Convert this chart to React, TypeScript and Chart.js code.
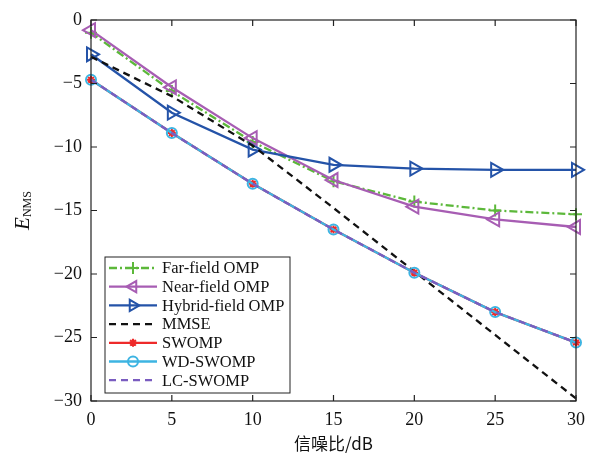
import React, { useEffect, useRef } from "react";
import { Chart, registerables } from "chart.js";

Chart.register(...registerables);

const snr = [0, 5, 10, 15, 20, 25, 30];
const farField = [-1.0, -5.6, -9.6, -12.7, -14.3, -15.0, -15.3];
const nearField = [-0.8, -5.3, -9.3, -12.6, -14.7, -15.7, -16.3];
const hybridField = [-2.7, -7.3, -10.2, -11.4, -11.7, -11.8, -11.8];
const mmse = [-2.9, -6.0, -9.9, -14.8, -19.8, -24.8, -29.8];
const swomp = [-4.7, -8.9, -12.9, -16.5, -19.9, -23.0, -25.4];
const wdSwomp = [-4.7, -8.9, -12.9, -16.5, -19.9, -23.0, -25.4];
const lcSwomp = [-4.7, -8.9, -12.9, -16.5, -19.9, -23.0, -25.4];
const yTicks = [0, -5, -10, -15, -20, -25, -30];
const xTicks = [0, 5, 10, 15, 20, 25, 30];

const SERIF = "'Liberation Serif', 'Times New Roman', serif";

type Item = {
  label: string;
  data: number[];
  color: string;
  dash: number[];
  point: string | false;
  rotation?: number;
  radius?: number;
};

const items: Item[] = [
  { label: "Far-field OMP", data: farField, color: "#5cb83a", dash: [8, 3, 2, 3], point: "cross", radius: 6 },
  { label: "Near-field OMP", data: nearField, color: "#a75db3", dash: [], point: "triangle", rotation: -90, radius: 8 },
  { label: "Hybrid-field OMP", data: hybridField, color: "#2453a8", dash: [], point: "triangle", rotation: 90, radius: 8 },
  { label: "MMSE", data: mmse, color: "#111111", dash: [7, 5], point: false },
  { label: "SWOMP", data: swomp, color: "#ee2a2a", dash: [], point: "star", radius: 4 },
  { label: "WD-SWOMP", data: wdSwomp, color: "#3db4e2", dash: [], point: "circle", radius: 5 },
  { label: "LC-SWOMP", data: lcSwomp, color: "#7a5cc0", dash: [7, 5], point: false },
];

const fmt = (v: number) => (v < 0 ? "\u2212" + Math.abs(v) : String(v));

function drawMarker(ctx: CanvasRenderingContext2D, style: string, r: number, rot: number, x: number, y: number, color: string) {
  ctx.save();
  ctx.strokeStyle = color;
  ctx.fillStyle = color;
  ctx.lineWidth = 2;
  ctx.setLineDash([]);
  ctx.beginPath();
  if (style === "circle") {
    ctx.arc(x, y, r, 0, Math.PI * 2);
  } else if (style === "cross") {
    ctx.moveTo(x - r, y); ctx.lineTo(x + r, y);
    ctx.moveTo(x, y - r); ctx.lineTo(x, y + r);
  } else if (style === "star") {
    for (let k = 0; k < 4; k++) {
      const ang = (k * Math.PI) / 4;
      ctx.moveTo(x - Math.cos(ang) * r, y - Math.sin(ang) * r);
      ctx.lineTo(x + Math.cos(ang) * r, y + Math.sin(ang) * r);
    }
  } else if (style === "triangle") {
    const t = (rot * Math.PI) / 180;
    for (let k = 0; k < 3; k++) {
      const ang = t - Math.PI / 2 + (k * 2 * Math.PI) / 3;
      const px = x + Math.cos(ang) * r;
      const py = y + Math.sin(ang) * r;
      if (k === 0) ctx.moveTo(px, py); else ctx.lineTo(px, py);
    }
    ctx.closePath();
  }
  ctx.stroke();
  ctx.restore();
}

const framePlugin = {
  id: "frame",
  afterDraw(chart: any) {
    const { ctx, chartArea: a, scales } = chart;
    ctx.save();
    ctx.strokeStyle = "#222";
    ctx.lineWidth = 1.2;
    ctx.setLineDash([]);
    ctx.strokeRect(a.left, a.top, a.right - a.left, a.bottom - a.top);
    const tl = 6;
    for (const v of xTicks) {
      const x = scales.x.getPixelForValue(v);
      ctx.beginPath();
      ctx.moveTo(x, a.bottom);
      ctx.lineTo(x, a.bottom - tl);
      ctx.moveTo(x, a.top);
      ctx.lineTo(x, a.top + tl);
      ctx.stroke();
    }
    for (const v of yTicks) {
      const y = scales.y.getPixelForValue(v);
      ctx.beginPath();
      ctx.moveTo(a.left, y);
      ctx.lineTo(a.left + tl, y);
      ctx.moveTo(a.right, y);
      ctx.lineTo(a.right - tl, y);
      ctx.stroke();
    }

    // y title
    ctx.save();
    ctx.translate(23, (a.top + a.bottom) / 2);
    ctx.rotate(-Math.PI / 2);
    ctx.fillStyle = "#111";
    ctx.textBaseline = "middle";
    ctx.font = `italic 21px ${SERIF}`;
    const eW = ctx.measureText("E").width;
    ctx.font = `12px ${SERIF}`;
    const sW = ctx.measureText("NMS").width;
    const total = eW + sW;
    ctx.font = `italic 21px ${SERIF}`;
    ctx.textAlign = "left";
    ctx.fillText("E", -total / 2, 0);
    ctx.font = `12px ${SERIF}`;
    ctx.fillText("NMS", -total / 2 + eW, 5);
    ctx.restore();

    // x title
    ctx.fillStyle = "#111";
    ctx.font = `17px 'Noto Sans CJK SC', ${SERIF}`;
    ctx.textAlign = "center";
    ctx.textBaseline = "middle";
    ctx.fillText("信噪比/dB", (a.left + a.right) / 2, 444);

    // legend
    const lx = 105, ly = 257, lw = 185, lh = 136;
    ctx.fillStyle = "#fff";
    ctx.fillRect(lx, ly, lw, lh);
    ctx.strokeStyle = "#222";
    ctx.lineWidth = 1;
    ctx.strokeRect(lx, ly, lw, lh);
    const rowH = 18.7;
    items.forEach((it, i) => {
      const y = 268 + i * rowH;
      ctx.strokeStyle = it.color;
      ctx.lineWidth = 2.3;
      ctx.setLineDash(it.dash);
      ctx.beginPath();
      ctx.moveTo(109, y);
      ctx.lineTo(157, y);
      ctx.stroke();
      ctx.setLineDash([]);
      if (it.point) {
        drawMarker(ctx, it.point as string, Math.min(it.radius || 5, 6.5), it.rotation || 0, 133, y, it.color);
      }
      ctx.fillStyle = "#111";
      ctx.font = `16.5px ${SERIF}`;
      ctx.textAlign = "left";
      ctx.textBaseline = "middle";
      ctx.fillText(it.label, 162, y + 1);
    });
    ctx.restore();
  },
};

export default function App() {
  const ref = useRef<HTMLCanvasElement>(null);
  useEffect(() => {
    document.body.style.margin = "0";
    const datasets = items.map((it, i) => ({
      label: it.label,
      data: it.data,
      order: items.length - i,
      borderColor: it.color,
      backgroundColor: it.point === "star" ? it.color : "rgba(255,255,255,0)",
      borderWidth: 2.3,
      borderDash: it.dash,
      pointStyle: it.point === false ? false : (it.point as any),
      pointRadius: it.point === false ? 0 : it.radius,
      pointRotation: it.rotation || 0,
      pointBorderWidth: 2,
      pointBorderColor: it.color,
      pointBackgroundColor: it.point === "star" ? it.color : "rgba(255,255,255,0)",
      tension: 0,
      fill: false,
      clip: false as any,
    }));
    const chart = new Chart(ref.current!, {
      type: "line",
      data: { labels: snr, datasets },
      options: {
        animation: false,
        responsive: false,
        devicePixelRatio: 1,
        layout: { padding: { top: 20, right: 15, left: 0, bottom: 0 } },
        plugins: { legend: { display: false }, tooltip: { enabled: false } },
        scales: {
          x: {
            type: "linear",
            min: 0,
            max: 30,
            grid: { display: false, drawTicks: false },
            border: { display: false },
            afterBuildTicks: (s: any) => { s.ticks = xTicks.map((v) => ({ value: v })); },
            afterFit: (s: any) => { s.height = 63; },
            ticks: {
              padding: 8,
              color: "#111",
              font: { family: SERIF, size: 18 },
              callback: (v: any) => fmt(Number(v)),
              maxRotation: 0,
            },
          },
          y: {
            type: "linear",
            min: -30,
            max: 0,
            grid: { display: false, drawTicks: false },
            border: { display: false },
            afterBuildTicks: (s: any) => { s.ticks = yTicks.map((v) => ({ value: v })); },
            afterFit: (s: any) => { s.width = 91; },
            ticks: {
              padding: 9,
              color: "#111",
              font: { family: SERIF, size: 18 },
              callback: (v: any) => fmt(Number(v)),
            },
          },
        },
      },
      plugins: [framePlugin],
    });
    return () => chart.destroy();
  }, []);
  return <canvas ref={ref} width={593} height={464} style={{ display: "block" }} />;
}
